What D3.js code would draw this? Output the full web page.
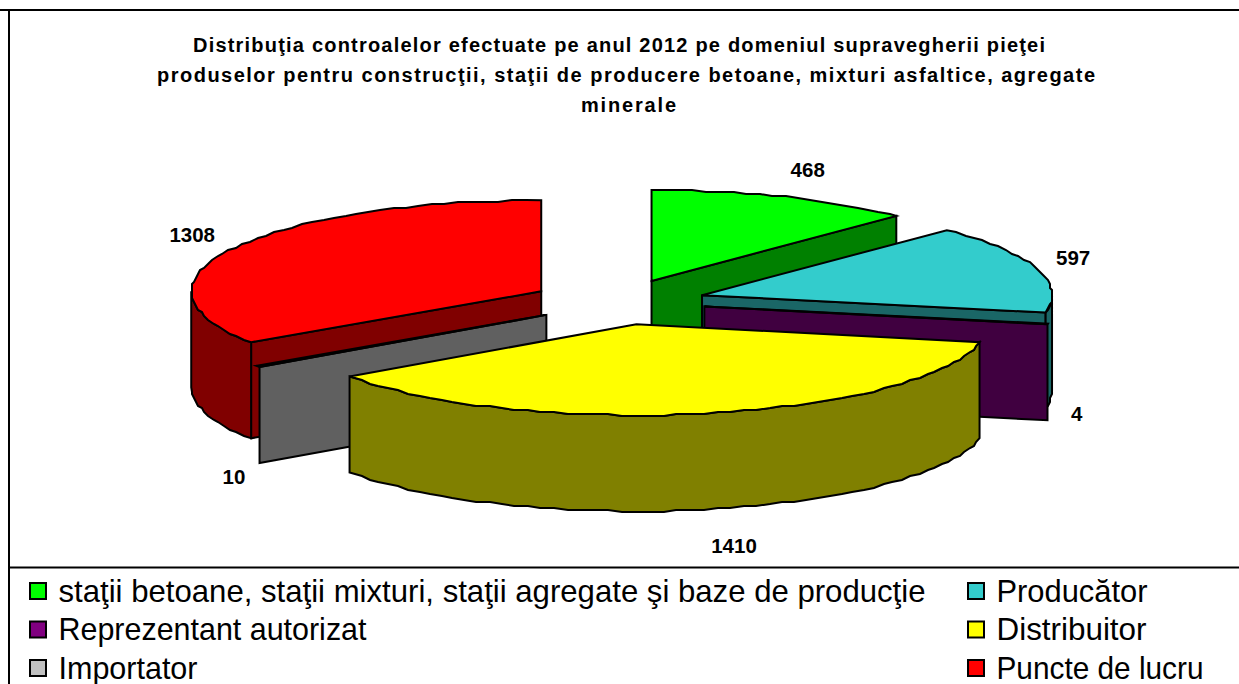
<!DOCTYPE html>
<html>
<head>
<meta charset="utf-8">
<script src="https://cdn.jsdelivr.net/npm/d3@7"></script>
<style>
  body { margin: 0; background: #fff; }
  svg { display: block; }
  text { font-family: "Liberation Sans", Arial, sans-serif; fill: #000; }
</style>
</head>
<body>
<div id="vis"></div>
<script>
const FRAME_WIDTH = 1239;
const FRAME_HEIGHT = 684;

const categories = [
  "staţii betoane, staţii mixturi, staţii agregate şi baze de producţie",
  "Producător",
  "Reprezentant autorizat",
  "Distribuitor",
  "Importator",
  "Puncte de lucru"
];
const values = [468, 597, 4, 1410, 10, 1308];
const titleLines = [
  "Distribuţia controalelor efectuate pe anul 2012 pe domeniul supravegherii pieţei",
  "produselor pentru construcţii, staţii de producere betoane, mixturi asfaltice, agregate",
  "minerale"
];
const topColors = ["#00FF00", "#33CCCC", "#800080", "#FFFF00", "#C0C0C0", "#FF0000"];
const sideColors = ["#008000", "#1A6666", "#400040", "#808000", "#606060", "#800000"];

// geometry of the tilted pie
const CENTER = {x: 618.5, y: 302};
const RX = 350;
const RY = 91;
const DEPTH = 96;
const EXPLODE = 0.25;
const STEP = Math.PI / 80;
const SNAP = 2;

// label offset from the rim point of each slice
const labelNudge = [[24, -27], [37, -10], [29, 90], [26, 133], [-24, 111], [-40, -14]];

const X_SCALE = d3.scaleLinear().domain([-1, 1]).range([-RX, RX]);
const Y_SCALE = d3.scaleLinear().domain([-1, 1]).range([RY, -RY]);

const FRAME = d3.select("#vis")
  .append("svg")
  .attr("width", FRAME_WIDTH)
  .attr("height", FRAME_HEIGHT);

FRAME.append("rect")
  .attr("width", FRAME_WIDTH)
  .attr("height", FRAME_HEIGHT)
  .attr("fill", "#fff");

const slices = d3.pie().sort(null).value((d) => d)(values);

const line = d3.line().x((d) => d[0]).y((d) => d[1]);

function rimPoint(origin, angle) {
  return [origin[0] + X_SCALE(Math.sin(angle)), origin[1] + Y_SCALE(Math.cos(angle))];
}

// arc as a coarse polyline, the wobbly edge of the original comes from the snapping
function arcPoints(origin, a, b) {
  const points = [rimPoint(origin, a)];
  for (let t = a + STEP; t < b - STEP / 2; t += STEP) {
    const p = rimPoint(origin, t);
    points.push([Math.round(p[0] / SNAP) * SNAP, Math.round(p[1] / SNAP) * SNAP]);
  }
  points.push(rimPoint(origin, b));
  return points;
}

function drop(points) {
  return points.map((p) => [p[0], p[1] + DEPTH]);
}

function polygon(group, points, fill) {
  group.append("path")
    .attr("d", line(points) + "Z")
    .attr("fill", fill)
    .attr("stroke", "#000")
    .attr("stroke-width", 2)
    .attr("stroke-linejoin", "miter");
}

const drawOrder = [0, 1, 2, 5, 4, 3];

drawOrder.forEach((i) => {
  const s = slices[i];
  const mid = (s.startAngle + s.endAngle) / 2;
  const origin = [
    CENTER.x + EXPLODE * X_SCALE(Math.sin(mid)),
    CENTER.y + EXPLODE * Y_SCALE(Math.cos(mid))
  ];
  const g = FRAME.append("g").attr("class", "slice");

  // radial faces
  if (Math.sin(s.startAngle) < -0.001) {
    const edge = [origin, rimPoint(origin, s.startAngle)];
    polygon(g, edge.concat(drop(edge).reverse()), sideColors[i]);
  }
  if (Math.sin(s.endAngle) > 0.001) {
    const edge = [origin, rimPoint(origin, s.endAngle)];
    polygon(g, edge.concat(drop(edge).reverse()), sideColors[i]);
  }

  // outer wall, only the front half of the rim shows, hairline slices have none
  const a = Math.max(s.startAngle, Math.PI / 2);
  const b = Math.min(s.endAngle, Math.PI * 1.5);
  if (b - a > 0.02) {
    const rim = arcPoints(origin, a, b);
    polygon(g, rim.concat(drop(rim).reverse()), sideColors[i]);
  }

  // top
  polygon(g, [origin].concat(arcPoints(origin, s.startAngle, s.endAngle)), topColors[i]);

  const rp = rimPoint(origin, mid);
  FRAME.append("text")
    .attr("class", "value-label")
    .datum(values[i])
    .attr("x", rp[0] + labelNudge[i][0])
    .attr("y", rp[1] + labelNudge[i][1] + 7)
    .attr("text-anchor", "middle")
    .attr("font-size", 20.5)
    .attr("font-weight", "bold")
    .text((d) => d);
});

// labels go above every slice
FRAME.selectAll("text.value-label").raise();

// frame lines
const frameLines = [
  [0, 10, FRAME_WIDTH, 10],
  [9, 10, 9, FRAME_HEIGHT],
  [9, 567.5, FRAME_WIDTH, 567.5]
];
FRAME.selectAll("line.frame")
  .data(frameLines)
  .enter()
  .append("line")
  .attr("class", "frame")
  .attr("x1", (d) => d[0])
  .attr("y1", (d) => d[1])
  .attr("x2", (d) => d[2])
  .attr("y2", (d) => d[3])
  .attr("stroke", "#000")
  .attr("stroke-width", 2);

// title, the original runs each line to its own width
const titleX = [193, 157, 581];
const titleWidths = [852, 938, 95];
FRAME.selectAll("text.title")
  .data(titleLines)
  .enter()
  .append("text")
  .attr("class", "title")
  .attr("x", (d, i) => titleX[i])
  .attr("y", (d, i) => 52 + i * 30)
  .attr("font-size", 20)
  .attr("font-weight", "bold")
  .attr("textLength", (d, i) => titleWidths[i])
  .attr("lengthAdjust", "spacing")
  .text((d) => d);

// legend, two columns filled row by row
const legendX = [30, 968];
const legendY = d3.scaleLinear().domain([0, 2]).range([591, 668]);
const legendWidths = [867, 151, 308, 150, 139, 207];
const legend = FRAME.selectAll("g.legend")
  .data(categories)
  .enter()
  .append("g")
  .attr("class", "legend")
  .attr("transform", (d, i) => `translate(${legendX[i % 2]},${legendY(Math.floor(i / 2))})`);

legend.append("rect")
  .attr("x", 0)
  .attr("y", -8)
  .attr("width", 16)
  .attr("height", 16)
  .attr("fill", (d, i) => topColors[i])
  .attr("stroke", "#000")
  .attr("stroke-width", 2);

legend.append("text")
  .attr("x", 28.5)
  .attr("y", 10.5)
  .attr("font-size", 30.5)
  .attr("textLength", (d, i) => legendWidths[i])
  .attr("lengthAdjust", "spacingAndGlyphs")
  .text((d) => d);
</script>
</body>
</html>
